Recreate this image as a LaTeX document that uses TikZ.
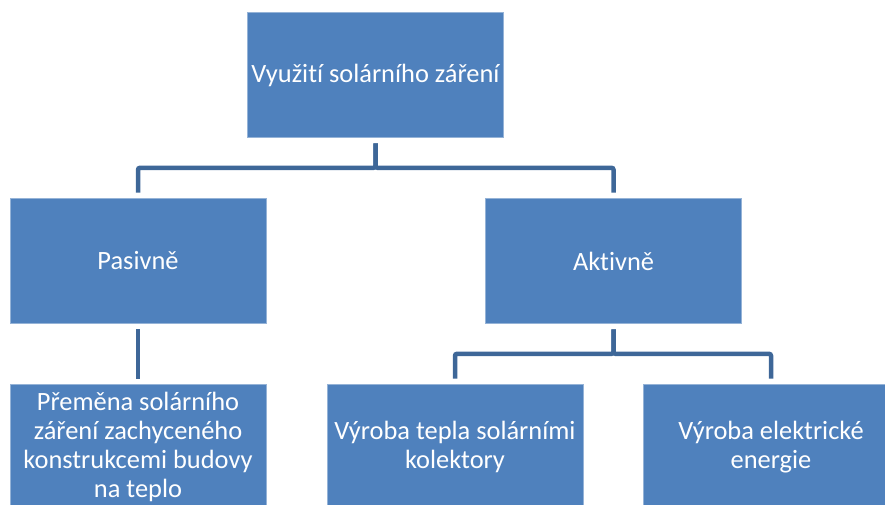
\documentclass[tikz,border=0pt]{standalone}
\usepackage{fontspec}
\setmainfont{Carlito}[Ligatures=NoCommon]
\definecolor{boxblue}{HTML}{4F81BD}
\definecolor{lineblue}{HTML}{3E6798}
\tikzset{
	box/.style={rectangle, fill=boxblue, draw=boxblue!60!white, line width=0.6pt,
		minimum width=256pt, minimum height=125pt, text=white, align=center,
		font=\fontsize{26.4}{29}\selectfont},
	conn/.style={draw=lineblue, line width=4.5pt, rounded corners=2pt,
		shorten <=5.5pt, shorten >=5.5pt}
}
\begin{document}
\begin{tikzpicture}[x=1pt, y=-1pt]
		\useasboundingbox (0,0) rectangle (885,505);
		\clip (0,0) rectangle (885,505);
		
		% Boxes
		\node[box] (solar) at (375.5, 75) {Využití solárního záření};
		\node[box] (pasiv) at (138, 261) {Pasivně};
		\node[box] (aktiv) at (613.5, 261) {Aktivně};
		\node[box] (konstr) at (138, 447) {Přeměna solárního\\záření zachyceného\\konstrukcemi budovy\\na teplo};
		\node[box] (kolekt) at (455, 447) {Výroba tepla solárními\\kolektory};
		\node[box] (elektr) at (771, 447) {Výroba elektrické\\energie};
		
		% Connectors
		\foreach \t in {pasiv, aktiv}
			\draw[conn] (solar.south) -- ++(0, 30) -| (\t.north);
		\draw[conn] (pasiv.south) -- (konstr.north);
		\foreach \t in {kolekt, elektr}
			\draw[conn] (aktiv.south) -- ++(0, 30) -| (\t.north);
	\end{tikzpicture}
\end{document}
